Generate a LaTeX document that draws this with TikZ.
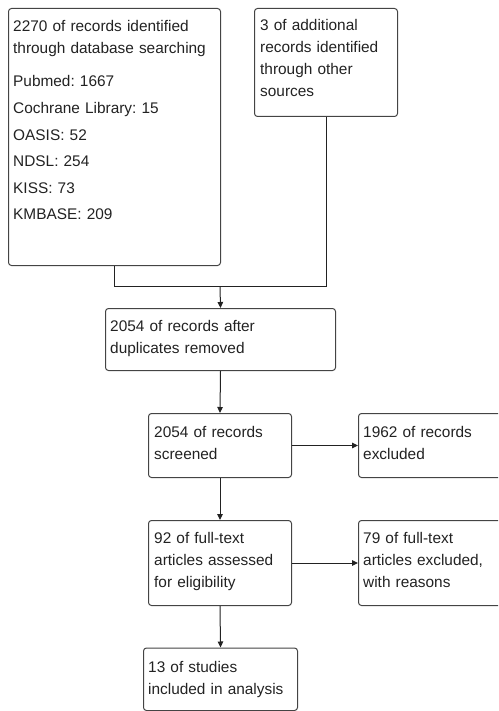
\documentclass[tikz,border=0pt]{standalone}
\usepackage{fontspec}
\setmainfont{Liberation Sans}
\frenchspacing
\usetikzlibrary{arrows.meta}
\definecolor{edge}{HTML}{444444}
\definecolor{ink}{HTML}{222222}
\tikzset{
  boxnode/.style={draw=edge, line width=1pt, rounded corners=3pt, anchor=north west, inner sep=0pt},
  txt/.style={anchor=base west, inner sep=0pt, align=left, text=ink,
    font=\fontsize{15.4}{22}\selectfont\frenchspacing},
  listtxt/.style={txt, font=\fontsize{15.4}{26.6}\selectfont\frenchspacing},
  conn/.style={draw=ink, line width=1pt},
  arr/.style={conn, -{Triangle[length=6pt,width=5.5pt]}}
}
\begin{document}
\begin{tikzpicture}[x=1pt,y=-1pt]
\useasboundingbox (0,0) rectangle (498,711);
\clip (0,0) rectangle (498,711);
% boxes
\node[boxnode, minimum width=212pt, minimum height=257pt] (A) at (8,8) {};
\node[boxnode, minimum width=143pt, minimum height=108pt] (B) at (254,8) {};
\node[boxnode, minimum width=230pt, minimum height=62pt] (C) at (105,308) {};
\node[boxnode, minimum width=143pt, minimum height=64pt] (D) at (148,413) {};
\node[boxnode, minimum width=150pt, minimum height=64pt] (E) at (358,413) {};
\node[boxnode, minimum width=143pt, minimum height=85pt] (F) at (148,520) {};
\node[boxnode, minimum width=150pt, minimum height=85pt] (G) at (358,520) {};
\node[boxnode, minimum width=154pt, minimum height=62.5pt] (H) at (143,647.5) {};
% texts
\node[txt, text width=205pt] (tA) at ([shift={(5,24)}]A.north west)
  {2270 of records identified\\through database searching};
\node[listtxt, text width=205pt] (tAlist) at ([shift={(5,79)}]A.north west)
  {Pubmed: 1667\\Cochrane Library: 15\\OASIS: 52\\NDSL: 254\\KISS: 73\\KMBASE: 209};
\node[txt, text width=136pt] (tB) at ([shift={(6,23)}]B.north west)
  {3 of additional\\records identified\\through other\\sources};
\node[txt, text width=220pt] (tC) at ([shift={(5,23)}]C.north west)
  {2054 of records after\\duplicates removed};
\node[txt, text width=136pt] (tD) at ([shift={(6,24)}]D.north west)
  {2054 of records\\screened};
\node[txt, text width=136pt] (tE) at ([shift={(5,24)}]E.north west)
  {1962 of records\\excluded};
\node[txt, text width=136pt] (tF) at ([shift={(6,23)}]F.north west)
  {92 of full-text\\articles assessed\\for eligibility};
\node[txt, text width=136pt] (tG) at ([shift={(5,23)}]G.north west)
  {79 of full-text\\articles excluded,\\with reasons};
\node[txt, text width=150pt] (tH) at ([shift={(5,24.5)}]H.north west)
  {13 of studies\\included in analysis};
% connectors
\coordinate (J) at (220,286.5);
\draw[conn] (A.south) -- (A.south |- J) -- (B.south |- J) -- (B.south);
\draw[arr] (J) -- (C.north);
\draw[arr] (C.south) -- (D.north);
\draw[arr] (D.east) -- (E.west);
\draw[arr] (D.south) -- (F.north);
\draw[arr] (F.east) -- (G.west);
\draw[arr] (F.south) -- (H.north);
\end{tikzpicture}
\end{document}
